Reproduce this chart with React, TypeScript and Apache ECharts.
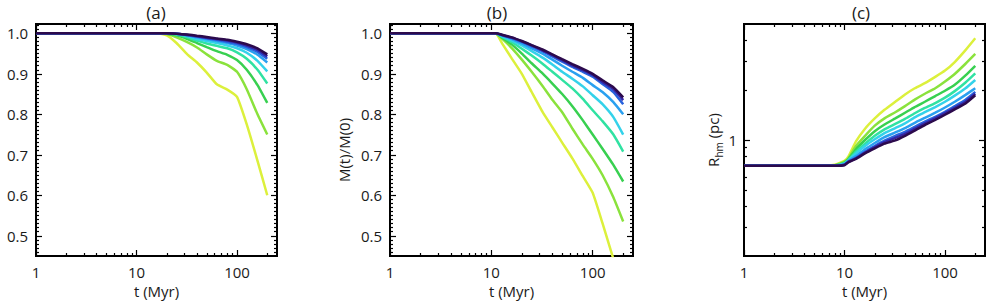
import React, { useEffect, useRef } from 'react';
import * as echarts from 'echarts';

// time grid (Myr)
const T = [1, 2, 5, 8, 10, 11, 13, 16, 20, 25, 32, 40, 50, 63, 80, 100, 125, 160, 200];

// Panel (a)
const A_YELLOW = [1, 1, 1, 1, 1, 1, 1, 1, 0.995, 0.976, 0.948, 0.928, 0.903, 0.874, 0.861, 0.843, 0.775, 0.685, 0.6];
const A_YG = [1, 1, 1, 1, 1, 1, 1, 1, 0.998, 0.99, 0.978, 0.965, 0.948, 0.932, 0.922, 0.905, 0.862, 0.8, 0.75];
const A_GREEN = [1, 1, 1, 1, 1, 1, 1, 1, 0.999, 0.995, 0.986, 0.976, 0.966, 0.956, 0.947, 0.934, 0.91, 0.872, 0.828];
const A_SPRING = [1, 1, 1, 1, 1, 1, 1, 1, 1, 0.997, 0.99, 0.982, 0.975, 0.969, 0.963, 0.953, 0.937, 0.91, 0.876];
const A_CYAN = [1, 1, 1, 1, 1, 1, 1, 1, 1, 0.998, 0.993, 0.986, 0.981, 0.976, 0.97, 0.963, 0.952, 0.932, 0.906];
const A_SKY = [1, 1, 1, 1, 1, 1, 1, 1, 1, 0.999, 0.995, 0.99, 0.986, 0.981, 0.976, 0.97, 0.961, 0.947, 0.928];
const A_BLUE = [1, 1, 1, 1, 1, 1, 1, 1, 1, 0.999, 0.996, 0.992, 0.988, 0.984, 0.979, 0.974, 0.966, 0.954, 0.937];
const A_INDIGO = [1, 1, 1, 1, 1, 1, 1, 1, 1, 0.999, 0.996, 0.993, 0.989, 0.986, 0.982, 0.977, 0.97, 0.959, 0.943];
const A_DARK = [1, 1, 1, 1, 1, 1, 1, 1, 1, 0.999, 0.997, 0.994, 0.991, 0.987, 0.984, 0.979, 0.973, 0.963, 0.948];

// Panel (b)
const B_YELLOW = [1, 1, 1, 1, 1, 1, 0.972, 0.937, 0.9, 0.855, 0.806, 0.768, 0.73, 0.691, 0.647, 0.606, 0.531, 0.443, null];
const B_YG = [1, 1, 1, 1, 1, 1, 0.985, 0.963, 0.935, 0.905, 0.87, 0.836, 0.805, 0.765, 0.725, 0.69, 0.65, 0.595, 0.535];
const B_GREEN = [1, 1, 1, 1, 1, 1, 0.988, 0.972, 0.95, 0.926, 0.901, 0.876, 0.85, 0.82, 0.785, 0.75, 0.715, 0.675, 0.634];
const B_SPRING = [1, 1, 1, 1, 1, 1, 0.99, 0.978, 0.962, 0.945, 0.925, 0.905, 0.885, 0.864, 0.838, 0.81, 0.783, 0.75, 0.708];
const B_CYAN = [1, 1, 1, 1, 1, 1, 0.992, 0.982, 0.97, 0.956, 0.94, 0.923, 0.905, 0.888, 0.869, 0.847, 0.825, 0.793, 0.75];
const B_SKY = [1, 1, 1, 1, 1, 1, 0.994, 0.986, 0.975, 0.963, 0.95, 0.935, 0.92, 0.905, 0.89, 0.872, 0.855, 0.83, 0.8];
const B_BLUE = [1, 1, 1, 1, 1, 1, 0.995, 0.988, 0.979, 0.968, 0.956, 0.943, 0.93, 0.917, 0.905, 0.893, 0.875, 0.855, 0.825];
const B_INDIGO = [1, 1, 1, 1, 1, 1, 0.995, 0.989, 0.98, 0.97, 0.958, 0.946, 0.934, 0.921, 0.909, 0.897, 0.88, 0.862, 0.835];
const B_DARK = [1, 1, 1, 1, 1, 1, 0.996, 0.99, 0.981, 0.971, 0.96, 0.948, 0.936, 0.924, 0.912, 0.9, 0.884, 0.867, 0.842];

// Panel (c)  R_hm (pc)
const C_YELLOW = [0.7, 0.7, 0.7, 0.71, 0.75, 0.8, 0.98, 1.17, 1.35, 1.52, 1.7, 1.88, 2.05, 2.2, 2.4, 2.62, 2.95, 3.48, 4.1];
const C_YG = [0.7, 0.7, 0.7, 0.705, 0.74, 0.78, 0.92, 1.06, 1.22, 1.35, 1.47, 1.6, 1.75, 1.9, 2.05, 2.25, 2.5, 2.88, 3.3];
const C_GREEN = [0.7, 0.7, 0.7, 0.703, 0.73, 0.77, 0.88, 1.0, 1.13, 1.24, 1.35, 1.46, 1.58, 1.7, 1.84, 1.98, 2.15, 2.45, 2.8];
const C_SPRING = [0.7, 0.7, 0.7, 0.702, 0.725, 0.76, 0.85, 0.95, 1.06, 1.16, 1.25, 1.34, 1.45, 1.56, 1.67, 1.8, 1.97, 2.22, 2.52];
const C_CYAN = [0.7, 0.7, 0.7, 0.701, 0.72, 0.755, 0.83, 0.92, 1.01, 1.1, 1.18, 1.26, 1.37, 1.47, 1.58, 1.7, 1.85, 2.05, 2.3];
const C_SKY = [0.7, 0.7, 0.7, 0.7, 0.715, 0.75, 0.8, 0.88, 0.96, 1.04, 1.11, 1.18, 1.27, 1.36, 1.46, 1.57, 1.7, 1.87, 2.05];
const C_BLUE = [0.7, 0.7, 0.7, 0.7, 0.71, 0.745, 0.78, 0.85, 0.92, 0.99, 1.06, 1.12, 1.2, 1.29, 1.38, 1.48, 1.6, 1.75, 1.95];
const C_INDIGO = [0.7, 0.7, 0.7, 0.7, 0.71, 0.74, 0.775, 0.84, 0.905, 0.97, 1.03, 1.09, 1.17, 1.26, 1.35, 1.45, 1.56, 1.7, 1.9];
const C_DARK = [0.7, 0.7, 0.7, 0.7, 0.705, 0.735, 0.77, 0.83, 0.89, 0.95, 0.995, 1.06, 1.14, 1.23, 1.32, 1.42, 1.53, 1.66, 1.86];

const PANEL_A = [A_YELLOW, A_YG, A_GREEN, A_SPRING, A_CYAN, A_SKY, A_BLUE, A_INDIGO, A_DARK];
const PANEL_B = [B_YELLOW, B_YG, B_GREEN, B_SPRING, B_CYAN, B_SKY, B_BLUE, B_INDIGO, B_DARK];
const PANEL_C = [C_YELLOW, C_YG, C_GREEN, C_SPRING, C_CYAN, C_SKY, C_BLUE, C_INDIGO, C_DARK];

const TITLES = ['(a)', '(b)', '(c)'];
const X_NAME = 't (Myr)';
const X_LABELS = [1, 10, 100];
const X_MINOR = [2, 3, 4, 5, 6, 7, 8, 9, 20, 30, 40, 50, 60, 70, 80, 90, 200];
const Y_LABELS_AB = [0.5, 0.6, 0.7, 0.8, 0.9, 1.0];
const Y_LABELS_C = [1];
const Y_MINOR_C = [0.3, 0.4, 0.5, 0.6, 0.7, 0.8, 0.9, 2, 3, 4];

const COLORS = ['#dcf03c', '#8ae23c', '#38d050', '#30e2a2', '#34d2ea', '#2aa0f0', '#2862dc', '#3424a4', '#2c0a4c'];

const FONT = 'Open Sans';

function yMinorAB(): number[] {
  const out: number[] = [];
  for (let i = 46; i <= 102; i++) {
    if (i % 10 !== 0) out.push(i / 100);
  }
  return out;
}

const GRIDS = [
  { left: 36, top: 24, width: 241, height: 232 },
  { left: 390, top: 24, width: 243, height: 232 },
  { left: 744, top: 24, width: 241, height: 232 },
];

export default function App() {
  const ref = useRef<HTMLDivElement>(null);
  useEffect(() => {
    if (!ref.current) return;
    const chart = echarts.init(ref.current, undefined, { renderer: 'svg' });
    const tickStyle = { color: '#000', width: 1.2 };
    const labelStyle = { fontSize: 15, color: '#1a1a1a', fontFamily: FONT };

    const xAxis: any[] = [];
    const yAxis: any[] = [];
    const series: any[] = [];
    const panels = [PANEL_A, PANEL_B, PANEL_C];

    panels.forEach((panel, gi) => {
      const xBase = {
        type: 'log', logBase: 10, min: 1, max: 250, gridIndex: gi,
        splitLine: { show: false }, axisLine: { show: false, onZero: false },
      };
      xAxis.push({
        ...xBase, position: 'bottom',
        axisTick: { show: true, inside: true, length: 6, lineStyle: tickStyle, customValues: X_LABELS },
        axisLabel: { ...labelStyle, margin: 8, customValues: X_LABELS, formatter: (v: number) => String(Math.round(v)) },
        name: X_NAME, nameLocation: 'middle', nameGap: 24,
        nameTextStyle: { fontSize: 15, color: '#1a1a1a', fontFamily: FONT },
      });
      xAxis.push({
        ...xBase, position: 'bottom',
        axisTick: { show: true, inside: true, length: 3, lineStyle: tickStyle, customValues: X_MINOR },
        axisLabel: { show: false },
      });
      xAxis.push({
        ...xBase, position: 'top',
        axisTick: { show: true, inside: true, length: 6, lineStyle: tickStyle, customValues: X_LABELS },
        axisLabel: { show: false },
      });
      xAxis.push({
        ...xBase, position: 'top',
        axisTick: { show: true, inside: true, length: 3, lineStyle: tickStyle, customValues: X_MINOR },
        axisLabel: { show: false },
      });

      const isLog = gi === 2;
      const yBase: any = isLog
        ? { type: 'log', logBase: 10, min: 0.2, max: 5 }
        : { type: 'value', min: 0.45, max: 1.023 };
      Object.assign(yBase, { gridIndex: gi, splitLine: { show: false }, axisLine: { show: false, onZero: false } });
      const majors = isLog ? Y_LABELS_C : Y_LABELS_AB;
      const minors = isLog ? Y_MINOR_C : yMinorAB();
      yAxis.push({
        ...yBase, position: 'left',
        axisTick: { show: true, inside: true, length: 6, lineStyle: tickStyle, customValues: majors },
        axisLabel: {
          ...labelStyle, margin: isLog ? 7 : 8, customValues: majors,
          formatter: (v: number) => (isLog ? String(Math.round(v)) : v.toFixed(1)),
        },
      });
      yAxis.push({
        ...yBase, position: 'left',
        axisTick: { show: true, inside: true, length: 3, lineStyle: tickStyle, customValues: minors },
        axisLabel: { show: false },
      });
      yAxis.push({
        ...yBase, position: 'right',
        axisTick: { show: true, inside: true, length: 6, lineStyle: tickStyle, customValues: majors },
        axisLabel: { show: false },
      });
      yAxis.push({
        ...yBase, position: 'right',
        axisTick: { show: true, inside: true, length: 3, lineStyle: tickStyle, customValues: minors },
        axisLabel: { show: false },
      });

      panel.forEach((vals, si) => {
        series.push({
          type: 'line',
          xAxisIndex: gi * 4,
          yAxisIndex: gi * 4,
          data: T.map((t, k) => [t, vals[k]]),
          showSymbol: false,
          symbol: 'none',
          smooth: 0.15,
          clip: true,
          lineStyle: { color: COLORS[si], width: 2.5 },
          z: 2 + si,
        });
      });
    });

    const titleX = [156, 497, 861];
    const graphic: any[] = TITLES.map((t, i) => ({
      type: 'text',
      x: titleX[i],
      y: 12,
      style: {
        text: t, fontSize: 17, fontFamily: FONT, fill: '#1a1a1a',
        textAlign: 'center', textVerticalAlign: 'middle', align: 'center', verticalAlign: 'middle',
      },
    }));
    graphic.push({
      type: 'text', x: 344, y: 150, rotation: Math.PI / 2,
      style: {
        text: 'M(t)/M(0)', fontSize: 15, fontFamily: FONT, fill: '#1a1a1a',
        textAlign: 'center', textVerticalAlign: 'middle', align: 'center', verticalAlign: 'middle',
      },
    });
    graphic.push({
      type: 'text', x: 713, y: 140, rotation: Math.PI / 2,
      style: {
        text: 'R{s|hm} (pc)', fontSize: 15, fontFamily: FONT, fill: '#1a1a1a',
        textAlign: 'center', textVerticalAlign: 'middle', align: 'center', verticalAlign: 'middle',
        rich: { s: { fontSize: 10, fontFamily: FONT, fill: '#1a1a1a', verticalAlign: 'bottom', lineHeight: 22, padding: [8, 0, 0, 0] } },
      },
    });

    chart.setOption({
      animation: false,
      backgroundColor: '#fff',
      grid: GRIDS.map((g) => ({ ...g, show: true, borderWidth: 2, borderColor: '#000', containLabel: false })),
      xAxis,
      yAxis,
      series,
      graphic,
    });
    return () => chart.dispose();
  }, []);
  return <div ref={ref} style={{ position: 'absolute', left: 0, top: 0, width: 989, height: 306 }} />;
}
